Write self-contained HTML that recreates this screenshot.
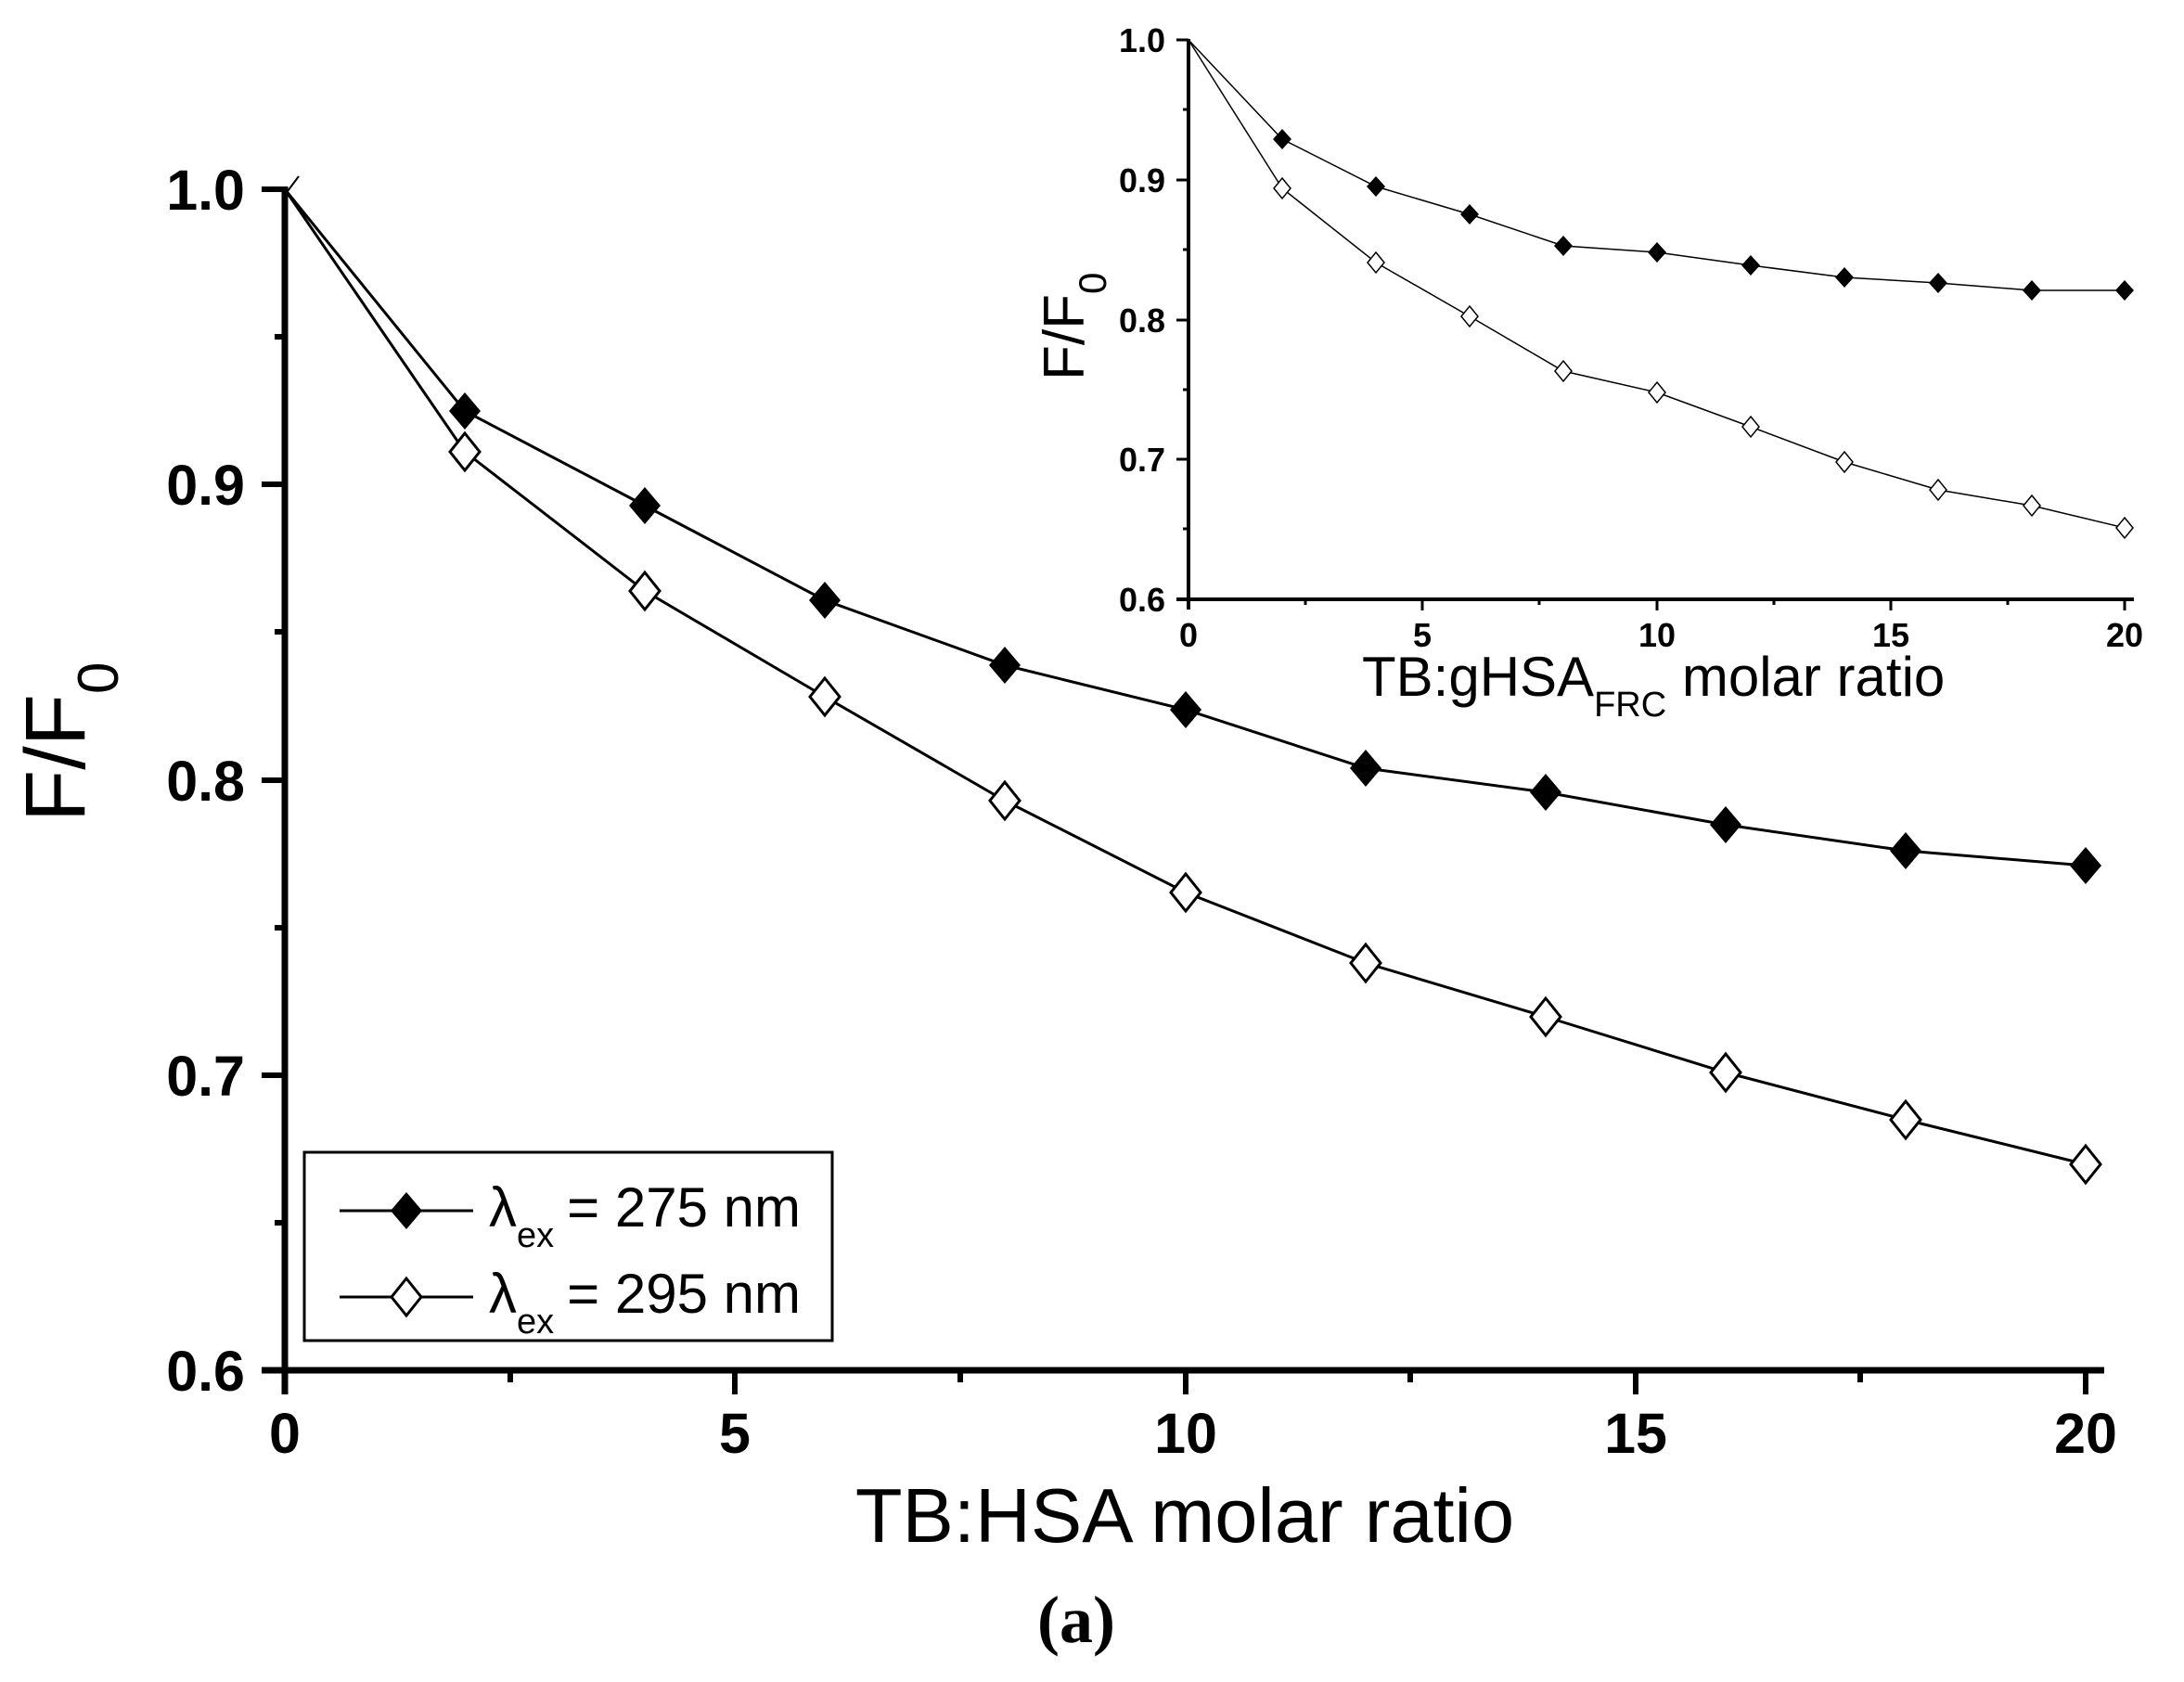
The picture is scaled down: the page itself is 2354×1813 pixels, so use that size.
<!DOCTYPE html>
<html><head><meta charset="utf-8"><style>html,body{margin:0;padding:0;background:#fff}svg{display:block}</style></head>
<body>
<svg xmlns="http://www.w3.org/2000/svg" width="2354" height="1813" viewBox="0 0 2354 1813">
<rect width="2354" height="1813" fill="#fff"/>
<g font-family="Liberation Sans, sans-serif" fill="#000">
<!-- main axes -->
<line x1="307" y1="201" x2="307" y2="1503" stroke="#000" stroke-width="7"/>
<line x1="282" y1="1477" x2="2268" y2="1477" stroke="#000" stroke-width="7"/>
<g stroke="#000" stroke-width="6">
<line x1="282" y1="204" x2="307" y2="204"/><line x1="282" y1="522" x2="307" y2="522"/><line x1="282" y1="841" x2="307" y2="841"/><line x1="282" y1="1159" x2="307" y2="1159"/>
<line x1="296" y1="363" x2="307" y2="363"/><line x1="296" y1="681" x2="307" y2="681"/><line x1="296" y1="1000" x2="307" y2="1000"/><line x1="296" y1="1318" x2="307" y2="1318"/>
<line x1="792" y1="1477" x2="792" y2="1503"/><line x1="1278" y1="1477" x2="1278" y2="1503"/><line x1="1763" y1="1477" x2="1763" y2="1503"/><line x1="2248" y1="1477" x2="2248" y2="1503"/>
<line x1="550" y1="1477" x2="550" y2="1490"/><line x1="1035" y1="1477" x2="1035" y2="1490"/><line x1="1520" y1="1477" x2="1520" y2="1490"/><line x1="2005" y1="1477" x2="2005" y2="1490"/>
</g>
<g font-size="61" font-weight="bold" text-anchor="end">
<text x="264" y="226">1.0</text><text x="264" y="544">0.9</text><text x="264" y="863">0.8</text><text x="264" y="1181">0.7</text><text x="264" y="1499">0.6</text>
</g>
<g font-size="61" font-weight="bold" text-anchor="middle">
<text x="307" y="1566">0</text><text x="792" y="1566">5</text><text x="1278" y="1566">10</text><text x="1763" y="1566">15</text><text x="2248" y="1566">20</text>
</g>
<text x="1277" y="1662" font-size="83" text-anchor="middle">TB:HSA molar ratio</text>
<text transform="translate(91,886) rotate(-90)" font-size="92">F/F<tspan font-size="62" dy="36">0</tspan></text>
<text x="1160" y="1770" font-family="Liberation Serif, serif" font-weight="bold" font-size="72" text-anchor="middle">(a)</text>

<!-- main series -->
<polyline fill="none" stroke="#000" stroke-width="3" points="307,204 501,443 695,545 889,647 1083,717 1278,765 1472,828 1666,854 1860,889 2054,917 2248,933"/>
<polyline fill="none" stroke="#000" stroke-width="3" points="307,204 501,487 695,637 889,751 1083,863 1278,962 1472,1038 1666,1096 1860,1156 2054,1207 2248,1255"/>
<g fill="#000">
<path d="M501,423l17,20l-17,20l-17,-20z"/><path d="M695,525l17,20l-17,20l-17,-20z"/><path d="M889,627l17,20l-17,20l-17,-20z"/><path d="M1083,697l17,20l-17,20l-17,-20z"/><path d="M1278,745l17,20l-17,20l-17,-20z"/><path d="M1472,808l17,20l-17,20l-17,-20z"/><path d="M1666,834l17,20l-17,20l-17,-20z"/><path d="M1860,869l17,20l-17,20l-17,-20z"/><path d="M2054,897l17,20l-17,20l-17,-20z"/><path d="M2248,913l17,20l-17,20l-17,-20z"/>
</g>
<g fill="#fff" stroke="#000" stroke-width="3">
<path d="M501,467l16,20l-16,20l-16,-20z"/><path d="M695,617l16,20l-16,20l-16,-20z"/><path d="M889,731l16,20l-16,20l-16,-20z"/><path d="M1083,843l16,20l-16,20l-16,-20z"/><path d="M1278,942l16,20l-16,20l-16,-20z"/><path d="M1472,1018l16,20l-16,20l-16,-20z"/><path d="M1666,1076l16,20l-16,20l-16,-20z"/><path d="M1860,1136l16,20l-16,20l-16,-20z"/><path d="M2054,1187l16,20l-16,20l-16,-20z"/><path d="M2248,1235l16,20l-16,20l-16,-20z"/>
</g>
<path d="M307,210l15,-20" stroke="#000" stroke-width="2"/>

<!-- legend -->
<rect x="328" y="1242" width="569" height="203" fill="#fff" stroke="#000" stroke-width="3"/>
<line x1="366" y1="1305" x2="510" y2="1305" stroke="#000" stroke-width="3"/>
<path d="M438,1285l17,20l-17,20l-17,-20z" fill="#000"/>
<line x1="366" y1="1398" x2="510" y2="1398" stroke="#000" stroke-width="3"/>
<path d="M438,1378l16,20l-16,20l-16,-20z" fill="#fff" stroke="#000" stroke-width="3"/>
<text x="527" y="1322" font-size="60">λ<tspan font-size="38" dy="22">ex</tspan><tspan dy="-22" dx="14">= 275 nm</tspan></text>
<text x="527" y="1415" font-size="60">λ<tspan font-size="38" dy="22">ex</tspan><tspan dy="-22" dx="14">= 295 nm</tspan></text>

<!-- inset axes -->
<line x1="1281" y1="42" x2="1281" y2="657" stroke="#000" stroke-width="4"/>
<line x1="1268" y1="646" x2="2300" y2="646" stroke="#000" stroke-width="4"/>
<g stroke="#000" stroke-width="3">
<line x1="1268" y1="43" x2="1281" y2="43"/><line x1="1268" y1="194" x2="1281" y2="194"/><line x1="1268" y1="345" x2="1281" y2="345"/><line x1="1268" y1="495" x2="1281" y2="495"/>
<line x1="1275" y1="118" x2="1281" y2="118"/><line x1="1275" y1="269" x2="1281" y2="269"/><line x1="1275" y1="420" x2="1281" y2="420"/><line x1="1275" y1="570" x2="1281" y2="570"/>
<line x1="1533" y1="646" x2="1533" y2="658"/><line x1="1786" y1="646" x2="1786" y2="658"/><line x1="2038" y1="646" x2="2038" y2="658"/><line x1="2290" y1="646" x2="2290" y2="658"/>
<line x1="1407" y1="646" x2="1407" y2="652"/><line x1="1659" y1="646" x2="1659" y2="652"/><line x1="1912" y1="646" x2="1912" y2="652"/><line x1="2164" y1="646" x2="2164" y2="652"/>
</g>
<g font-size="36" font-weight="bold" text-anchor="end">
<text x="1256" y="56">1.0</text><text x="1256" y="207">0.9</text><text x="1256" y="358">0.8</text><text x="1256" y="508">0.7</text><text x="1256" y="659">0.6</text>
</g>
<g font-size="36" font-weight="bold" text-anchor="middle">
<text x="1281" y="697">0</text><text x="1533" y="697">5</text><text x="1786" y="697">10</text><text x="2038" y="697">15</text><text x="2290" y="697">20</text>
</g>
<text x="1468" y="750" font-size="60">TB:gHSA<tspan font-size="38" dy="22">FRC</tspan><tspan dy="-22"> molar ratio</tspan></text>
<text transform="translate(1168,410) rotate(-90)" font-size="62">F/F<tspan font-size="42" dy="24">0</tspan></text>
<polyline fill="none" stroke="#000" stroke-width="1.5" points="1281,43 1382,150 1483,201 1584,231 1685,265 1786,272 1887,286 1988,299 2089,305 2190,313 2290,313"/>
<polyline fill="none" stroke="#000" stroke-width="1.5" points="1281,43 1382,203 1483,283 1584,341 1685,400 1786,423 1887,460 1988,498 2089,528 2190,545 2290,569"/>
<g fill="#000">
<path d="M1382,139l10,11l-10,11l-10,-11z"/><path d="M1483,190l10,11l-10,11l-10,-11z"/><path d="M1584,220l10,11l-10,11l-10,-11z"/><path d="M1685,254l10,11l-10,11l-10,-11z"/><path d="M1786,261l10,11l-10,11l-10,-11z"/><path d="M1887,275l10,11l-10,11l-10,-11z"/><path d="M1988,288l10,11l-10,11l-10,-11z"/><path d="M2089,294l10,11l-10,11l-10,-11z"/><path d="M2190,302l10,11l-10,11l-10,-11z"/><path d="M2290,302l10,11l-10,11l-10,-11z"/>
</g>
<g fill="#fff" stroke="#000" stroke-width="1.5">
<path d="M1382,192l9,11l-9,11l-9,-11z"/><path d="M1483,272l9,11l-9,11l-9,-11z"/><path d="M1584,330l9,11l-9,11l-9,-11z"/><path d="M1685,389l9,11l-9,11l-9,-11z"/><path d="M1786,412l9,11l-9,11l-9,-11z"/><path d="M1887,449l9,11l-9,11l-9,-11z"/><path d="M1988,487l9,11l-9,11l-9,-11z"/><path d="M2089,517l9,11l-9,11l-9,-11z"/><path d="M2190,534l9,11l-9,11l-9,-11z"/><path d="M2290,558l9,11l-9,11l-9,-11z"/>
</g>
</g>
</svg>
</body></html>
